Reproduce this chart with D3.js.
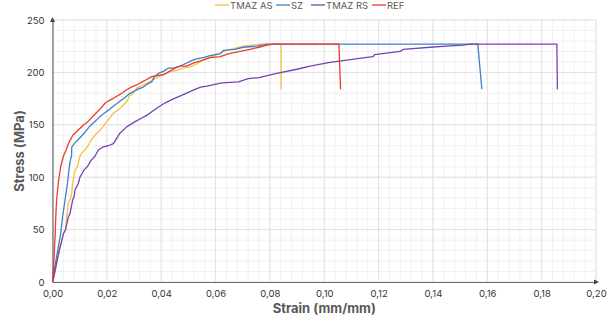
<!DOCTYPE html>
<html><head><meta charset="utf-8">
<script src="https://cdn.jsdelivr.net/npm/d3@7"></script>
<style>html,body{margin:0;padding:0;background:#fff;}svg{display:block;font-family:Inter,"Noto Sans",sans-serif;}</style>
</head><body>
<svg id="c" width="615" height="324"></svg>
<script>
const seriesNames = ["TMAZ AS", "SZ", "TMAZ RS", "REF"];
const seriesColors = ["#f5c043", "#3f7fc8", "#7443b2", "#ef3b2c"];

const tmazAsStrain = [0, 0.0013, 0.0025, 0.0040, 0.0048, 0.0052, 0.0058, 0.0067, 0.0071, 0.0074, 0.0083, 0.0092, 0.0101, 0.0107, 0.0115, 0.0126, 0.0135, 0.0144, 0.0160, 0.0175, 0.0188, 0.0199, 0.0212, 0.0224, 0.0240, 0.0254, 0.0273, 0.0285, 0.0297, 0.0310, 0.0334, 0.0350, 0.0371, 0.0390, 0.0408, 0.0430, 0.0457, 0.0480, 0.0506, 0.0530, 0.0555, 0.0585, 0.0617, 0.0640, 0.0670, 0.0702, 0.0735, 0.0764, 0.0800, 0.0841, 0.0841];
const tmazAsStress = [0, 15, 30, 46, 50, 62, 75, 80, 85, 94, 107, 110, 120, 123, 125, 128, 132, 136, 141, 145, 149, 153, 157, 161, 164, 167, 172, 178, 180, 185, 188, 190, 193, 196, 198, 200, 202, 204, 205, 208, 212, 215, 218, 221, 223, 225, 226, 227, 227, 227, 184];

const szStrain = [0, 0.0009, 0.0019, 0.0030, 0.0037, 0.0046, 0.0055, 0.0062, 0.0067, 0.0070, 0.0071, 0.0080, 0.0095, 0.0110, 0.0120, 0.0135, 0.0147, 0.0160, 0.0175, 0.0190, 0.0206, 0.0220, 0.0236, 0.0250, 0.0267, 0.0285, 0.0300, 0.0315, 0.0334, 0.0350, 0.0365, 0.0375, 0.0390, 0.0408, 0.0426, 0.0445, 0.0469, 0.0494, 0.0510, 0.0530, 0.0555, 0.0580, 0.0617, 0.0629, 0.0670, 0.0702, 0.0752, 0.0790, 0.1000, 0.1565, 0.1580];
const szStress = [0, 15, 30, 46, 62, 78, 94, 110, 118, 120, 129, 132, 136, 140, 143, 148, 151, 154, 158, 161, 164, 167, 170, 173, 176, 180, 182, 184, 186, 189, 191, 196, 199, 201, 204, 204, 206, 209, 211, 213, 214, 216, 218, 221, 222, 224, 225, 227, 227, 227, 184];

const tmazRsStrain = [0, 0.0005, 0.0015, 0.0025, 0.0040, 0.0048, 0.0058, 0.0064, 0.0074, 0.0080, 0.0083, 0.0095, 0.0101, 0.0110, 0.0116, 0.0128, 0.0142, 0.0156, 0.0169, 0.0187, 0.0205, 0.0224, 0.0248, 0.0273, 0.0304, 0.0325, 0.0347, 0.0368, 0.0390, 0.0415, 0.0439, 0.0475, 0.0518, 0.0545, 0.0568, 0.0623, 0.0684, 0.0720, 0.0760, 0.0825, 0.0899, 0.0948, 0.1021, 0.1083, 0.1150, 0.1180, 0.1185, 0.1279, 0.1291, 0.1390, 0.1450, 0.1512, 0.1537, 0.1856, 0.1858];
const tmazRsStress = [0, 5, 18, 30, 46, 50, 62, 65, 78, 82, 88, 94, 100, 104, 107, 110, 116, 120, 126, 129, 130, 132, 142, 148, 153, 156, 159, 163, 167, 171, 174, 178, 183, 186, 187, 190, 191, 194, 195, 199, 203, 206, 209.6, 211.8, 214, 215, 217, 220, 222, 224, 225, 226, 227, 227, 184];

const refStrain = [0, 0.0004, 0.0007, 0.0010, 0.0012, 0.0015, 0.0021, 0.0030, 0.0040, 0.0050, 0.0062, 0.0075, 0.0095, 0.0115, 0.0130, 0.0156, 0.0175, 0.0195, 0.0215, 0.0235, 0.0255, 0.0270, 0.0290, 0.0310, 0.0330, 0.0345, 0.0365, 0.0385, 0.0410, 0.0430, 0.0450, 0.0470, 0.0494, 0.0520, 0.0545, 0.0580, 0.0617, 0.0650, 0.0690, 0.0727, 0.0760, 0.0790, 0.0815, 0.0900, 0.1054, 0.1060];
const refStress = [0, 15, 30, 46, 62, 78, 94, 110, 120, 126, 134, 140, 145, 150, 153, 160, 165, 171, 174, 177, 180, 183, 186, 188, 191, 193, 196, 197, 198, 201, 204, 206, 206, 209, 211, 214, 215, 218, 220, 222, 224, 226, 227, 227, 227, 184];

const xTicks = [0, 0.02, 0.04, 0.06, 0.08, 0.10, 0.12, 0.14, 0.16, 0.18, 0.20];
const yTicks = [0, 50, 100, 150, 200, 250];
const xTitle = "Strain (mm/mm)";
const yTitle = "Stress (MPa)";

const series = [
  {name: seriesNames[0], color: seriesColors[0], x: tmazAsStrain, y: tmazAsStress},
  {name: seriesNames[1], color: seriesColors[1], x: szStrain, y: szStress},
  {name: seriesNames[2], color: seriesColors[2], x: tmazRsStrain, y: tmazRsStress},
  {name: seriesNames[3], color: seriesColors[3], x: refStrain, y: refStress}
];

const svg = d3.select("#c");
const L = 52.5, R = 596, T = 20, B = 282;
const x = d3.scaleLinear().domain([0, 0.2]).range([L, R]);
const y = d3.scaleLinear().domain([0, 250]).range([B, T]);

// minor grid
const g = svg.append("g");
g.selectAll("line.mx").data(d3.range(0, 0.2001, 0.004)).enter().append("line")
  .attr("x1", d => x(d)).attr("x2", d => x(d)).attr("y1", T).attr("y2", B)
  .attr("stroke", "#f1f1f1").attr("stroke-width", 1);
g.selectAll("line.my").data(d3.range(0, 250.1, 10)).enter().append("line")
  .attr("x1", L).attr("x2", R).attr("y1", d => y(d)).attr("y2", d => y(d))
  .attr("stroke", "#f1f1f1").attr("stroke-width", 1);
// major grid
g.selectAll("line.Mx").data(xTicks).enter().append("line")
  .attr("x1", d => x(d)).attr("x2", d => x(d)).attr("y1", T).attr("y2", B)
  .attr("stroke", "#e2e2e2").attr("stroke-width", 1);
g.selectAll("line.My").data(yTicks).enter().append("line")
  .attr("x1", L).attr("x2", R).attr("y1", d => y(d)).attr("y2", d => y(d))
  .attr("stroke", "#e2e2e2").attr("stroke-width", 1);

// axes
const fmt = d => d.toFixed(2).replace(".", ",");
const xAxis = svg.append("g").attr("transform", `translate(0,${B})`)
  .call(d3.axisBottom(x).tickValues(xTicks).tickFormat(fmt).tickSize(0).tickPadding(8));
const yAxis = svg.append("g").attr("transform", `translate(${L},0)`)
  .call(d3.axisLeft(y).tickValues(yTicks).tickFormat(d3.format("d")).tickSize(0).tickPadding(8));
[xAxis, yAxis].forEach(a => {
  a.select(".domain").attr("stroke", "#6b6b6b").attr("stroke-width", 1.2);
  a.selectAll("text").attr("fill", "#333").style("font-size", "9.5px").style("font-family", "Inter, 'Noto Sans', sans-serif");
});
// arrows
svg.append("path").attr("d", `M${R+3},${B} L${R-2},${B-2.5} L${R-2},${B+2.5} Z`).attr("fill", "#444");
svg.append("path").attr("d", `M${L},${T-3} L${L-2.5},${T+2} L${L+2.5},${T+2} Z`).attr("fill", "#444");

// lines
const line = d3.line().x(d => x(d[0])).y(d => y(d[1]));
series.forEach(s => {
  const pts = s.x.map((v, i) => [v, s.y[i]]);
  svg.append("path").datum(pts).attr("d", line)
    .attr("fill", "none").attr("stroke", s.color).attr("stroke-width", 1.3)
    .attr("stroke-linejoin", "round");
});

// titles
svg.append("text").attr("x", (L + R) / 2).attr("y", 313).attr("text-anchor", "middle")
  .attr("fill", "#595959").style("font-weight", "bold").style("font-size", "13px").text(xTitle);
svg.append("text").attr("transform", `translate(24,${(T + B) / 2}) rotate(-90)`).attr("text-anchor", "middle")
  .attr("fill", "#595959").style("font-weight", "bold").style("font-size", "13px").text(yTitle);

// legend
const legX = [215, 276, 311, 372];
series.forEach((s, i) => {
  const lg = svg.append("g").attr("transform", `translate(${legX[i]},5)`);
  lg.append("line").attr("x1", 0).attr("x2", 14).attr("y1", 0).attr("y2", 0)
    .attr("stroke", s.color).attr("stroke-width", 1.3);
  lg.append("text").attr("x", 15).attr("y", 3.5).attr("fill", "#595959")
    .style("font-size", "9.5px").text(s.name);
});
</script>
</body></html>
